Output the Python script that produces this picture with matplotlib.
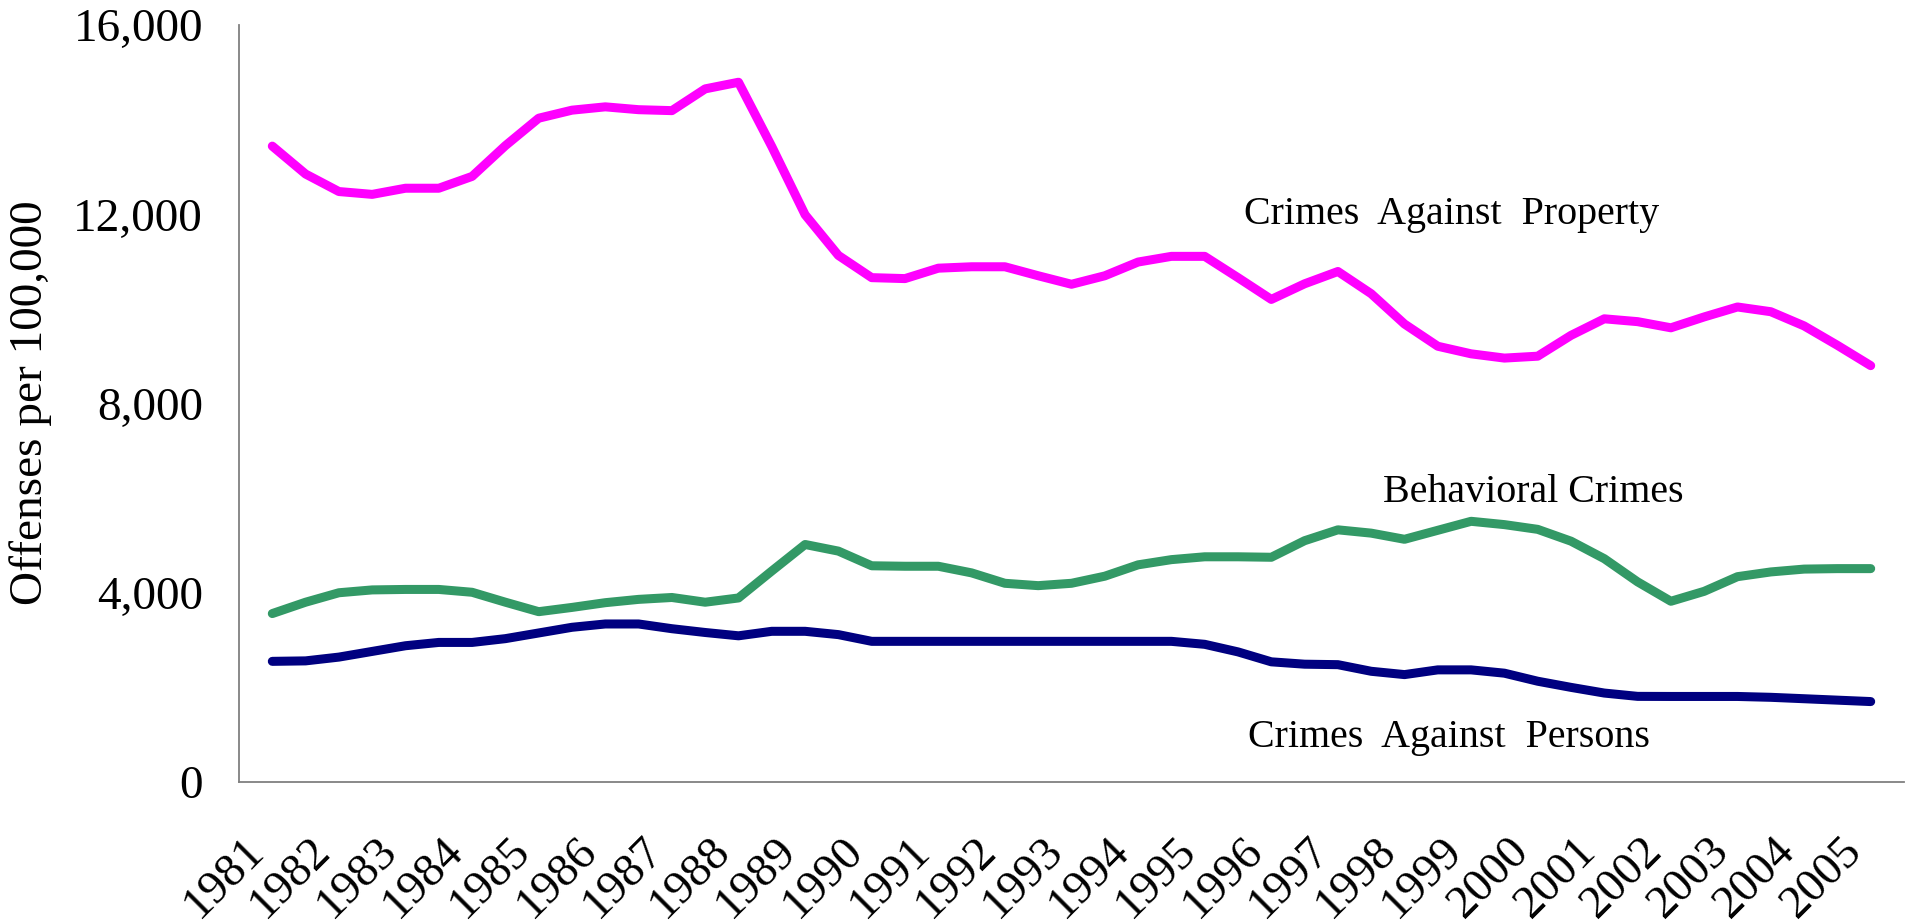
import numpy as np
import matplotlib
matplotlib.use("Agg")
import matplotlib.pyplot as plt
from matplotlib.ticker import FuncFormatter

# values at half-year steps
years = np.arange(1981, 2005.01, 0.5)
year_labels = [str(y) for y in range(1981, 2006)]

property_crimes = [13440, 12850, 12480, 12420, 12550, 12550, 12800, 13450, 14030, 14200,
                   14270, 14210, 14190, 14650, 14790, 13430, 11990, 11130, 10660, 10640,
                   10860, 10890, 10890, 10700, 10520, 10700, 10990, 11110, 11110, 10660,
                   10200, 10530, 10790, 10320, 9680, 9210, 9050, 8960, 9000, 9440,
                   9790, 9730, 9600, 9830, 10040, 9940, 9640, 9230, 8800]

behavioral_crimes = [3560, 3800, 4000, 4060, 4070, 4070, 4010, 3800, 3600, 3690,
                     3790, 3860, 3900, 3800, 3890, 4460, 5020, 4880, 4570, 4560,
                     4560, 4420, 4200, 4150, 4200, 4350, 4590, 4700, 4760, 4760,
                     4750, 5100, 5330, 5260, 5130, 5320, 5510, 5440, 5340, 5090,
                     4720, 4230, 3820, 4030, 4340, 4440, 4500, 4510, 4510]

person_crimes = [2550, 2560, 2640, 2760, 2880, 2950, 2950, 3030, 3150, 3270,
                 3340, 3340, 3240, 3160, 3090, 3185, 3185, 3115, 2973, 2973,
                 2973, 2973, 2973, 2973, 2973, 2973, 2973, 2973, 2910, 2750,
                 2540, 2490, 2480, 2340, 2270, 2370, 2370, 2300, 2130, 2000,
                 1880, 1810, 1808, 1808, 1808, 1790, 1760, 1730, 1700]

plt.rcParams['font.family'] = ['Liberation Serif', 'DejaVu Serif']

fig = plt.figure(figsize=(19.11, 9.23), dpi=100)
ax = fig.add_axes([239/1911, 1-782/923, (1904-239)/1911, (782-25)/923])

lw = 6.5
ax.plot(years, person_crimes, color='#000080', lw=lw, solid_capstyle='round', solid_joinstyle='round')
ax.plot(years, behavioral_crimes, color='#339966', lw=lw, solid_capstyle='round', solid_joinstyle='round')
ax.plot(years, property_crimes, color='#FF00FF', lw=lw, solid_capstyle='round', solid_joinstyle='round')

ax.set_xlim(1980.5, 2005.5)
ax.set_ylim(0, 16000)
ax.set_yticks([0, 4000, 8000, 12000, 16000])
ax.yaxis.set_major_formatter(FuncFormatter(lambda v, p: '{:,.0f}'.format(v)))
ax.set_xticks(range(1981, 2006))
ax.set_xticklabels(year_labels, rotation=45, ha='right', va='top')

ax.tick_params(axis='y', length=0, pad=26, labelsize=34)
ax.tick_params(axis='x', length=0, pad=34, labelsize=34)

for s in ['top', 'right']:
    ax.spines[s].set_visible(False)
for s in ['left', 'bottom']:
    ax.spines[s].set_color('#808080')
    ax.spines[s].set_linewidth(1.3)

fig.text(31/1911, 1-403/923, 'Offenses per 100,000', rotation=90,
         ha='center', va='center', fontsize=34)

ax.text(1995.59, 11800, 'Crimes  Against  Property', fontsize=28.8, ha='left', va='baseline')
ax.text(1997.68, 5910, 'Behavioral Crimes', fontsize=28.8, ha='left', va='baseline')
ax.text(1995.65, 740, 'Crimes  Against  Persons', fontsize=28.8, ha='left', va='baseline')

fig.savefig('out.png', dpi=100)
